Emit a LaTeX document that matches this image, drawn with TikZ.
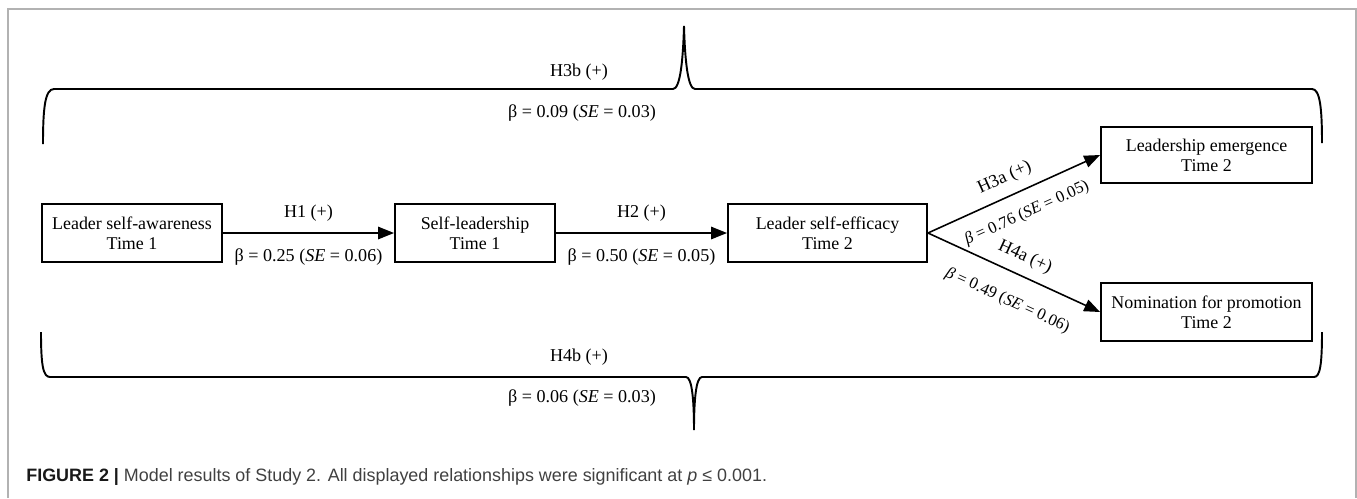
\documentclass[tikz,border=0pt]{standalone}
\usepackage{fontspec}
\setmainfont{Liberation Serif}
\newfontfamily\capfont{Liberation Sans}
\usepackage{tikz}
\usetikzlibrary{arrows.meta}

\begin{document}
\begin{tikzpicture}[x=0.02cm,y=-0.02cm]
\tikzset{box/.style={draw,line width=1.1pt,minimum height=1.16cm,inner sep=0pt,align=center,font=\fontsize{10.2}{11.5}\selectfont}}
\tikzset{lbl/.style={font=\fontsize{10.3}{12}\selectfont}}
\tikzset{slbl/.style={sloped,font=\fontsize{9.4}{11}\selectfont}}
\tikzset{arr/.style={line width=0.9pt,-{Triangle[length=9pt,width=7pt]}}}
\tikzset{brace/.style={line width=1.1pt}}

\useasboundingbox (0,0) rectangle (1357,498);
\draw[gray!60,line width=1pt] (8,498) -- (8,9) -- (1356,9) -- (1356,498);

% boxes
\node[box,minimum width=3.6cm] (awareness) at (132,233) {Leader self-awareness\\Time 1};
\node[box,minimum width=3.2cm] (selflead) at (475,233) {Self-leadership\\Time 1};
\node[box,minimum width=3.98cm] (efficacy) at (827.5,233) {Leader self-efficacy\\Time 2};
\node[box,minimum width=4.22cm,minimum height=1.12cm] (emergence) at (1206.5,155) {Leadership emergence\\Time 2};
\node[box,minimum width=4.22cm] (promotion) at (1206.5,312) {Nomination for promotion\\Time 2};

% paths
\draw[arr] (awareness) -- (selflead)
  node[lbl,midway,above=3pt] (h1) {H1 (+)}
  node[lbl,midway,below=5pt] (b1) {β = 0.25 (\textit{SE} = 0.06)};
\draw[arr] (selflead) -- (efficacy)
  node[lbl,midway,above=3pt] (h2) {H2 (+)}
  node[lbl,midway,below=5pt] (b2) {β = 0.50 (\textit{SE} = 0.05)};
\draw[arr] (efficacy.east) -- (emergence.west)
  node[lbl,sloped,pos=0.49,above=2pt] (h3a) {H3a (+)}
  node[slbl,pos=0.52,below=5pt] (b3a) {\textit{β} = 0.76 (\textit{SE} = 0.05)};
\draw[arr] (efficacy.east) -- (promotion.west)
  node[lbl,sloped,pos=0.52,above=2pt] (h4a) {H4a (+)}
  node[slbl,pos=0.53,below=8pt] (b4a) {\textit{β} = 0.49 (\textit{SE} = 0.06)};

% braces
\draw[brace] (43,144) .. controls (43,108) and (45,89) .. (54,89) -- (673,89)
  .. controls (680,89) and (683,62) .. (684,26) .. controls (685,62) and (688,89) .. (695,89)
  -- (1312,89) .. controls (1320,89) and (1322,108) .. (1322,143);
\draw[brace] (41,332) .. controls (41,365) and (43,377) .. (50,377) -- (686,377)
  .. controls (692,377) and (694,400) .. (694,430) .. controls (694,400) and (696,377) .. (702,377)
  -- (1314,377) .. controls (1320,377) and (1322,365) .. (1322,332);

\node[lbl] (h3b) at (579,72) {H3b (+)};
\node[lbl] (b3b) at (582,113) {β = 0.09 (\textit{SE} = 0.03)};
\node[lbl] (h4b) at (579,357) {H4b (+)};
\node[lbl] (b4b) at (582,398) {β = 0.06 (\textit{SE} = 0.03)};

% caption
\node[anchor=west,inner sep=0pt,font=\capfont\fontsize{10.2}{12}\selectfont,text=black!75] (caption) at (26,477)
  {{\bfseries\color{black!90}FIGURE 2 |} Model results of Study 2. All displayed relationships were significant at \textit{p} ≤ 0.001.};

\end{tikzpicture}
\end{document}
